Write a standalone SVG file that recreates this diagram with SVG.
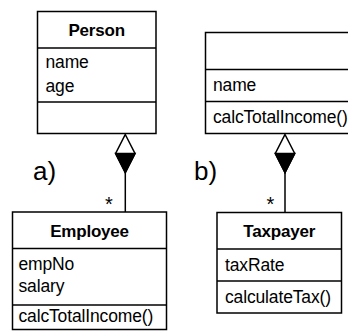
<svg xmlns="http://www.w3.org/2000/svg" width="348" height="331" viewBox="0 0 348 331">
  <style>
    .box { fill: #fff; stroke: #000; stroke-width: 1.5; }
    .div { stroke: #000; stroke-width: 1.5; }
    .t { font-family: "Liberation Sans", Arial, sans-serif; font-size: 17.5px; letter-spacing: -0.15px; fill: #000; }
    .h { font-family: "Liberation Sans", Arial, sans-serif; font-size: 17px; font-weight: bold; letter-spacing: -0.2px; fill: #000; text-anchor: middle; }
    .lbl { font-family: "Liberation Sans", Arial, sans-serif; font-size: 26px; fill: #000; }
    .mult { font-family: "Liberation Sans", Arial, sans-serif; font-size: 20px; fill: #000; text-anchor: middle; }
    .conn { stroke: #000; stroke-width: 1.5; fill: none; }
    .dia { fill: #fff; stroke: #000; stroke-width: 1.5; stroke-linejoin: miter; }
    .diaf { fill: #000; stroke: #000; stroke-width: 1.5; stroke-linejoin: miter; }
  </style>

  <g id="person">
    <rect class="box" x="37.5" y="11.5" width="118.5" height="122"/>
    <line class="div" x1="37.5" y1="48" x2="156" y2="48"/>
    <line class="div" x1="37.5" y1="102" x2="156" y2="102"/>
    <text class="h" x="96.7" y="35.5">Person</text>
    <text class="t" x="45.5" y="68">name</text>
    <text class="t" x="45.5" y="92">age</text>
  </g>

  <g id="party">
    <rect class="box" x="205.5" y="32.5" width="160" height="101"/>
    <line class="div" x1="205.5" y1="69.5" x2="365" y2="69.5"/>
    <line class="div" x1="205.5" y1="101.5" x2="365" y2="101.5"/>
    <text class="t" x="213" y="91">name</text>
    <text class="t" x="213" y="123">calcTotalIncome()</text>
  </g>

  <g id="employee">
    <rect class="box" x="12.5" y="212" width="154" height="117.5"/>
    <line class="div" x1="12.5" y1="248.5" x2="166.5" y2="248.5"/>
    <line class="div" x1="12.5" y1="305" x2="166.5" y2="305"/>
    <text class="h" x="89.5" y="236.5">Employee</text>
    <text class="t" x="18.5" y="270">empNo</text>
    <text class="t" x="18.5" y="292">salary</text>
    <text class="t" x="18.5" y="322">calcTotalIncome()</text>
  </g>

  <g id="taxpayer">
    <rect class="box" x="217" y="212.5" width="124.5" height="100.5"/>
    <line class="div" x1="217" y1="249" x2="341.5" y2="249"/>
    <line class="div" x1="217" y1="281" x2="341.5" y2="281"/>
    <text class="h" x="279.2" y="236.5">Taxpayer</text>
    <text class="t" x="225" y="271">taxRate</text>
    <text class="t" x="225" y="303">calculateTax()</text>
  </g>

  <g id="labels">
    <text class="lbl" x="33" y="180">a)</text>
    <text class="lbl" x="194" y="180">b)</text>
  </g>

  <g id="connectors">
    <line class="conn" x1="125.3" y1="172" x2="125.3" y2="212"/>
    <polygon class="dia" points="125.3,134.5 135,153.5 125.3,172.5 115.6,153.5"/>
    <polygon class="diaf" points="115.6,153.5 135,153.5 125.3,172.5"/>
    <text class="mult" x="109" y="210.5">*</text>

    <line class="conn" x1="285" y1="172" x2="285" y2="212.5"/>
    <polygon class="dia" points="285,134.5 294.7,153.5 285,172.5 275.3,153.5"/>
    <polygon class="diaf" points="275.3,153.5 294.7,153.5 285,172.5"/>
    <text class="mult" x="270.5" y="210.5">*</text>
  </g>
</svg>
